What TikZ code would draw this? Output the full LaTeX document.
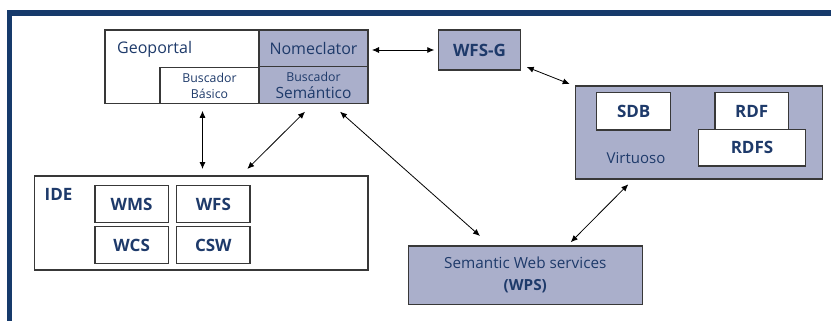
\documentclass[tikz,border=0pt]{standalone}
\usepackage{fontspec}
\setmainfont{Open Sans}
\usetikzlibrary{arrows.meta,calc}
\definecolor{navy}{HTML}{163A6B}
\definecolor{txt}{HTML}{1E3A6A}
\definecolor{shade}{HTML}{AAAFCB}
\definecolor{edge}{HTML}{383838}
\newcommand{\fs}[2]{\fontsize{#1}{#2}\selectfont}
\begin{document}
\begin{tikzpicture}[x=1pt,y=-1pt,
  box/.style={draw=edge,line width=1.1pt,inner sep=0pt,outer sep=0pt,text=txt,align=center},
  wbox/.style={box,fill=white},
  sbox/.style={box,fill=shade},
  bl/.style={font=\bfseries\fs{17}{20}},
  lbl/.style={text=txt,inner sep=0pt},
  arr/.style={{Latex[length=7pt,width=6pt]}-{Latex[length=7pt,width=6pt]},line width=0.8pt,black}
]
\useasboundingbox (0,0) rectangle (831,321);
\draw[navy,line width=5.5pt] (9.7,321) -- (9.7,13) -- (831,13);

% Geoportal group
\node[wbox,minimum width=154pt,minimum height=73.3pt] (geo) at (182,66.65) {};
\node[sbox,minimum width=109pt,minimum height=36.7pt,font=\fs{16}{19}] (nom) at (313.5,48.35) {Nomeclator};
\node[sbox,minimum width=109pt,minimum height=36.6pt,font=\fs{12.3}{17}] (bsem) at (313.5,85)
  {Buscador\\\fs{15.5}{17}Semántico};
\node[wbox,minimum width=99pt,minimum height=36.6pt,font=\fs{12.3}{16}] (bbas) at (209.5,85.5)
  {Buscador\\Básico};
\node[lbl,anchor=west,font=\fs{16}{19}] (geolbl) at (117,49) {Geoportal};

% WFS-G
\node[sbox,bl,minimum width=82.4pt,minimum height=40pt] (wfsg) at (479.5,50) {WFS-G};

% Virtuoso
\node[sbox,minimum width=246.6pt,minimum height=93pt] (virt) at (699,132.5) {};
\node[wbox,bl,minimum width=74pt,minimum height=37.3pt] (sdb) at (633.7,111.35) {SDB};
\node[wbox,bl,minimum width=73.3pt,minimum height=36.6pt] (rdf) at (751.65,111) {RDF};
\node[wbox,bl,minimum width=107.4pt,minimum height=36.7pt] (rdfs) at (752,147.65) {RDFS};
\node[lbl,font=\fs{15}{18}] (virtlbl) at (636,158) {Virtuoso};

% IDE
\node[wbox,minimum width=333.7pt,minimum height=94pt] (ide) at (201.15,223) {};
\node[lbl,font=\bfseries\fs{17}{20}] (idelbl) at (58.5,194.3) {IDE};
\node[wbox,bl,minimum width=73.3pt,minimum height=37pt] (wms) at (131.65,204.2) {WMS};
\node[wbox,bl,minimum width=73.3pt,minimum height=37pt] (wfs) at (213.35,204.2) {WFS};
\node[wbox,bl,minimum width=73.3pt,minimum height=37pt] (wcs) at (131.65,245.2) {WCS};
\node[wbox,bl,minimum width=73.3pt,minimum height=37pt] (csw) at (213.35,245.2) {CSW};

% WPS
\node[sbox,minimum width=234pt,minimum height=58.3pt,font=\fs{15.3}{21.7}] (wps) at (525.3,275.15)
  {Semantic Web services\\\bfseries (WPS)};

% connectors
\draw[arr] ($(nom.east |- wfsg.west)+(4,0)$) -- ($(wfsg.west)+(-4,0)$);
\draw[arr] ($(wfsg.south east)+(6,-3)$) -- ($(virt.north west)+(-6,-2)$);
\draw[arr] ($(bbas.south)+(-7,7)$) -- ($(bbas.south |- ide.north)+(-7,-7)$);
\draw[arr] ($(bsem.south)+(-8.5,8.4)$) -- ($(ide.north west)+(213,-7)$);
\draw[arr] ($(bsem.south east)+(-28,8.4)$) -- ($(wps.north west)+(71.7,-10)$);
\draw[arr] ($(virt.south west)+(52.6,5.3)$) -- ($(wps.north)+(45.4,-3.7)$);
\end{tikzpicture}
\end{document}
